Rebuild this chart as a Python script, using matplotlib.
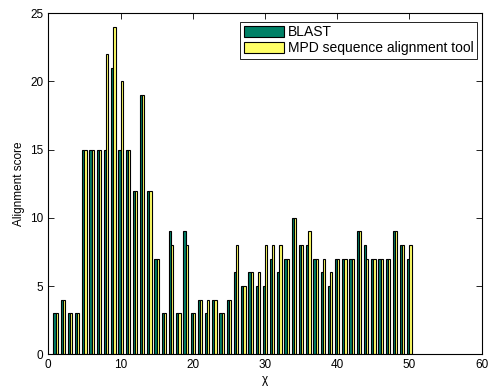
import numpy as np
import matplotlib
matplotlib.use("Agg")
import matplotlib.pyplot as plt

plt.rcParams['font.family'] = ['Liberation Sans', 'DejaVu Sans']

chi = list(range(1, 51))
blast = [3, 4, 3, 3, 15, 15, 15, 15, 21, 15,
         15, 12, 19, 12, 7, 3, 9, 3, 9, 3,
         4, 3, 4, 3, 4, 6, 5, 6, 5, 5,
         7, 6, 7, 10, 8, 8, 7, 6, 5, 7,
         7, 7, 9, 8, 7, 7, 7, 9, 8, 7]
mpd = [3, 4, 3, 3, 15, 15, 15, 22, 24, 20,
       15, 12, 19, 12, 7, 3, 8, 3, 8, 3,
       4, 4, 4, 3, 4, 8, 5, 6, 6, 8,
       8, 8, 7, 10, 8, 9, 7, 7, 6, 7,
       7, 7, 9, 7, 7, 7, 7, 9, 8, 8]

fig = plt.figure(figsize=(4.88, 3.9), dpi=100)
ax = fig.add_axes([0.099, 0.0915, 0.888, 0.875])

x = np.array(chi)
w = 0.31
ax.bar(x - w / 2, blast, w, color=(0, 0.5, 0.4), edgecolor='black', linewidth=0.8, label='BLAST')
ax.bar(x + w / 2, mpd, w, color=(1, 1, 0.4), edgecolor='black', linewidth=0.8,
       label='MPD sequence alignment tool')

ax.set_xlim(0, 60)
ax.set_ylim(0, 25)
ax.set_xticks(range(0, 61, 10))
ax.set_yticks(range(0, 26, 5))
ax.tick_params(direction='in', top=True, right=True, labelsize=8.5, length=4, width=0.6)
for s in ax.spines.values():
    s.set_linewidth(0.8)
ax.set_xlabel('χ', fontsize=8.5, labelpad=2)
ax.set_ylabel('Alignment score', fontsize=8.5, labelpad=4)

leg = ax.legend(loc='upper right', bbox_to_anchor=(0.99, 0.975), fontsize=10, fancybox=False,
                edgecolor='black', framealpha=1, handlelength=2.9, handleheight=0.8,
                borderpad=0.25, labelspacing=0.15, handletextpad=0.3, borderaxespad=0)
leg.get_frame().set_linewidth(0.6)

fig.savefig('out.png', dpi=100)
